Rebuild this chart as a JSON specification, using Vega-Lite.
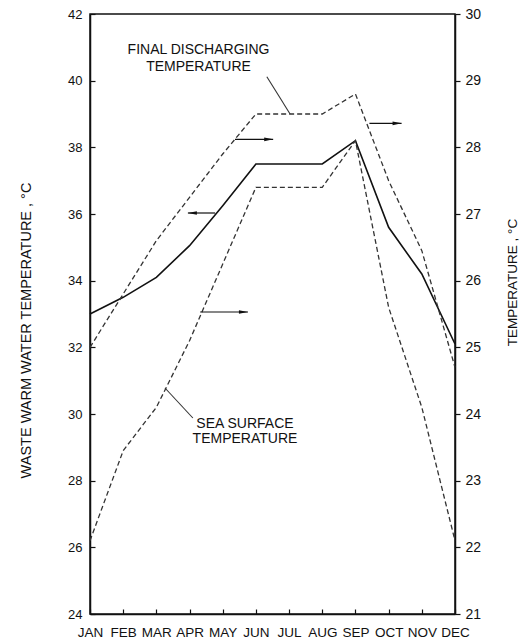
{
  "$schema": "https://vega.github.io/schema/vega-lite/v6.json",
  "width": 365,
  "height": 600,
  "autosize": {"type": "none"},
  "padding": {"left": 90, "top": 14, "right": 73, "bottom": 26},
  "background": "white",
  "config": {
    "view": {"stroke": "#111", "strokeWidth": 1.5},
    "font": "Liberation Sans",
    "axis": {
      "grid": false,
      "domainColor": "#111",
      "domainWidth": 1.5,
      "tickColor": "#111",
      "tickWidth": 1.2,
      "labelColor": "#111",
      "titleColor": "#111",
      "titleFont": "Liberation Sans",
      "titleFontWeight": "normal",
      "labelFont": "Liberation Sans"
    },
    "axisX": {
      "title": null,
      "values": [1, 2, 3, 4, 5, 6, 7, 8, 9, 10, 11, 12],
      "labelExpr": "['JAN','FEB','MAR','APR','MAY','JUN','JUL','AUG','SEP','OCT','NOV','DEC'][datum.value - 1]",
      "tickSize": -5,
      "labelPadding": 16,
      "labelFontSize": 13.5,
      "labelFlush": false,
      "labelOverlap": false,
      "labelBound": false
    }
  },
  "datasets": {
    "waste": [
      {"m": 1, "t": 33.0},
      {"m": 2, "t": 33.5},
      {"m": 3, "t": 34.1},
      {"m": 4, "t": 35.05},
      {"m": 5, "t": 36.25},
      {"m": 6, "t": 37.5},
      {"m": 7, "t": 37.5},
      {"m": 8, "t": 37.5},
      {"m": 9, "t": 38.2},
      {"m": 10, "t": 35.6},
      {"m": 11, "t": 34.2},
      {"m": 12, "t": 32.1}
    ],
    "temps": [
      {"series": "Final discharging", "m": 1, "t": 25.0},
      {"series": "Final discharging", "m": 2, "t": 25.8},
      {"series": "Final discharging", "m": 3, "t": 26.6},
      {"series": "Final discharging", "m": 4, "t": 27.25},
      {"series": "Final discharging", "m": 5, "t": 27.9},
      {"series": "Final discharging", "m": 6, "t": 28.5},
      {"series": "Final discharging", "m": 7, "t": 28.5},
      {"series": "Final discharging", "m": 8, "t": 28.5},
      {"series": "Final discharging", "m": 9, "t": 28.8},
      {"series": "Final discharging", "m": 10, "t": 27.5},
      {"series": "Final discharging", "m": 11, "t": 26.45},
      {"series": "Final discharging", "m": 12, "t": 24.7},
      {"series": "Sea surface", "m": 1, "t": 22.1},
      {"series": "Sea surface", "m": 2, "t": 23.45},
      {"series": "Sea surface", "m": 3, "t": 24.1},
      {"series": "Sea surface", "m": 4, "t": 25.1},
      {"series": "Sea surface", "m": 5, "t": 26.25},
      {"series": "Sea surface", "m": 6, "t": 27.4},
      {"series": "Sea surface", "m": 7, "t": 27.4},
      {"series": "Sea surface", "m": 8, "t": 27.4},
      {"series": "Sea surface", "m": 9, "t": 28.1},
      {"series": "Sea surface", "m": 10, "t": 25.6},
      {"series": "Sea surface", "m": 11, "t": 24.1},
      {"series": "Sea surface", "m": 12, "t": 22.1}
    ],
    "arrowLeft": [
      {"m": 4.77, "m2": 3.95, "t": 36.03}
    ],
    "arrowsRight": [
      {"m": 5.37, "m2": 6.52, "t": 28.12},
      {"m": 4.32, "m2": 5.76, "t": 25.53},
      {"m": 9.42, "m2": 10.39, "t": 28.36}
    ],
    "leaders": [
      {"m": 6.33, "t": 29.06, "m2": 7.03, "t2": 28.5},
      {"m": 3.26, "t": 24.39, "m2": 4.1, "t2": 23.94}
    ],
    "labels": [
      {"m": 4.27, "t": 29.46, "label": "FINAL DISCHARGING"},
      {"m": 4.27, "t": 29.2, "label": "TEMPERATURE"},
      {"m": 5.67, "t": 23.85, "label": "SEA SURFACE"},
      {"m": 5.67, "t": 23.62, "label": "TEMPERATURE"}
    ]
  },
  "encoding": {
    "x": {
      "field": "m",
      "type": "quantitative",
      "scale": {"domain": [1, 12], "nice": false, "zero": false},
      "axis": {"title": null}
    }
  },
  "layer": [
    {
      "encoding": {
        "y": {
          "field": "t",
          "type": "quantitative",
          "scale": {"domain": [24, 42], "nice": false, "zero": false},
          "axis": {
            "orient": "left",
            "title": "WASTE WARM WATER TEMPERATURE , °C",
            "values": [24, 26, 28, 30, 32, 34, 36, 38, 40, 42],
            "tickSize": -5,
            "labelPadding": 13,
            "labelFontSize": 13,
            "labelFlush": false,
            "labelOverlap": false,
            "titleFontSize": 14.5,
            "titleAngle": -90,
            "titleAlign": "center",
            "titleBaseline": "middle",
            "titleX": -64,
            "titleY": 316
          }
        }
      },
      "layer": [
        {
          "data": {"name": "waste"},
          "mark": {"type": "line", "color": "#111", "strokeWidth": 1.6}
        },
        {
          "data": {"name": "arrowLeft"},
          "mark": {"type": "rule", "color": "#111", "strokeWidth": 1.2},
          "encoding": {"x2": {"field": "m2"}}
        },
        {
          "data": {"name": "arrowLeft"},
          "mark": {"type": "point", "shape": "M0,0L2,-0.4L2,0.4Z", "filled": true, "color": "#111", "size": 81, "opacity": 1},
          "encoding": {"x": {"field": "m2", "type": "quantitative", "axis": {"title": null}}}
        }
      ]
    },
    {
      "encoding": {
        "y": {
          "field": "t",
          "type": "quantitative",
          "scale": {"domain": [21, 30], "nice": false, "zero": false},
          "axis": {
            "orient": "right",
            "title": "TEMPERATURE , °C",
            "values": [21, 22, 23, 24, 25, 26, 27, 28, 29, 30],
            "tickSize": 5,
            "labelPadding": 5,
            "labelFontSize": 14,
            "labelFlush": false,
            "labelOverlap": false,
            "titleFontSize": 13.5,
            "titleAngle": -90,
            "titleAlign": "center",
            "titleBaseline": "middle",
            "titleX": 57,
            "titleY": 268
          }
        }
      },
      "layer": [
        {
          "data": {"name": "temps"},
          "mark": {"type": "line", "color": "#333", "strokeWidth": 1.3, "strokeDash": [5, 3]},
          "encoding": {"detail": {"field": "series"}}
        },
        {
          "data": {"name": "arrowsRight"},
          "mark": {"type": "rule", "color": "#111", "strokeWidth": 1.2},
          "encoding": {"x2": {"field": "m2"}}
        },
        {
          "data": {"name": "arrowsRight"},
          "mark": {"type": "point", "shape": "M0,0L-2,-0.4L-2,0.4Z", "filled": true, "color": "#111", "size": 81, "opacity": 1},
          "encoding": {"x": {"field": "m2", "type": "quantitative", "axis": {"title": null}}}
        },
        {
          "data": {"name": "leaders"},
          "mark": {"type": "rule", "color": "#333", "strokeWidth": 1.1},
          "encoding": {"x2": {"field": "m2"}, "y2": {"field": "t2"}}
        },
        {
          "data": {"name": "labels"},
          "mark": {"type": "text", "align": "center", "baseline": "middle", "fontSize": 14, "color": "#111", "font": "Liberation Sans"},
          "encoding": {"text": {"field": "label"}}
        }
      ]
    }
  ],
  "resolve": {"scale": {"y": "independent"}}
}
